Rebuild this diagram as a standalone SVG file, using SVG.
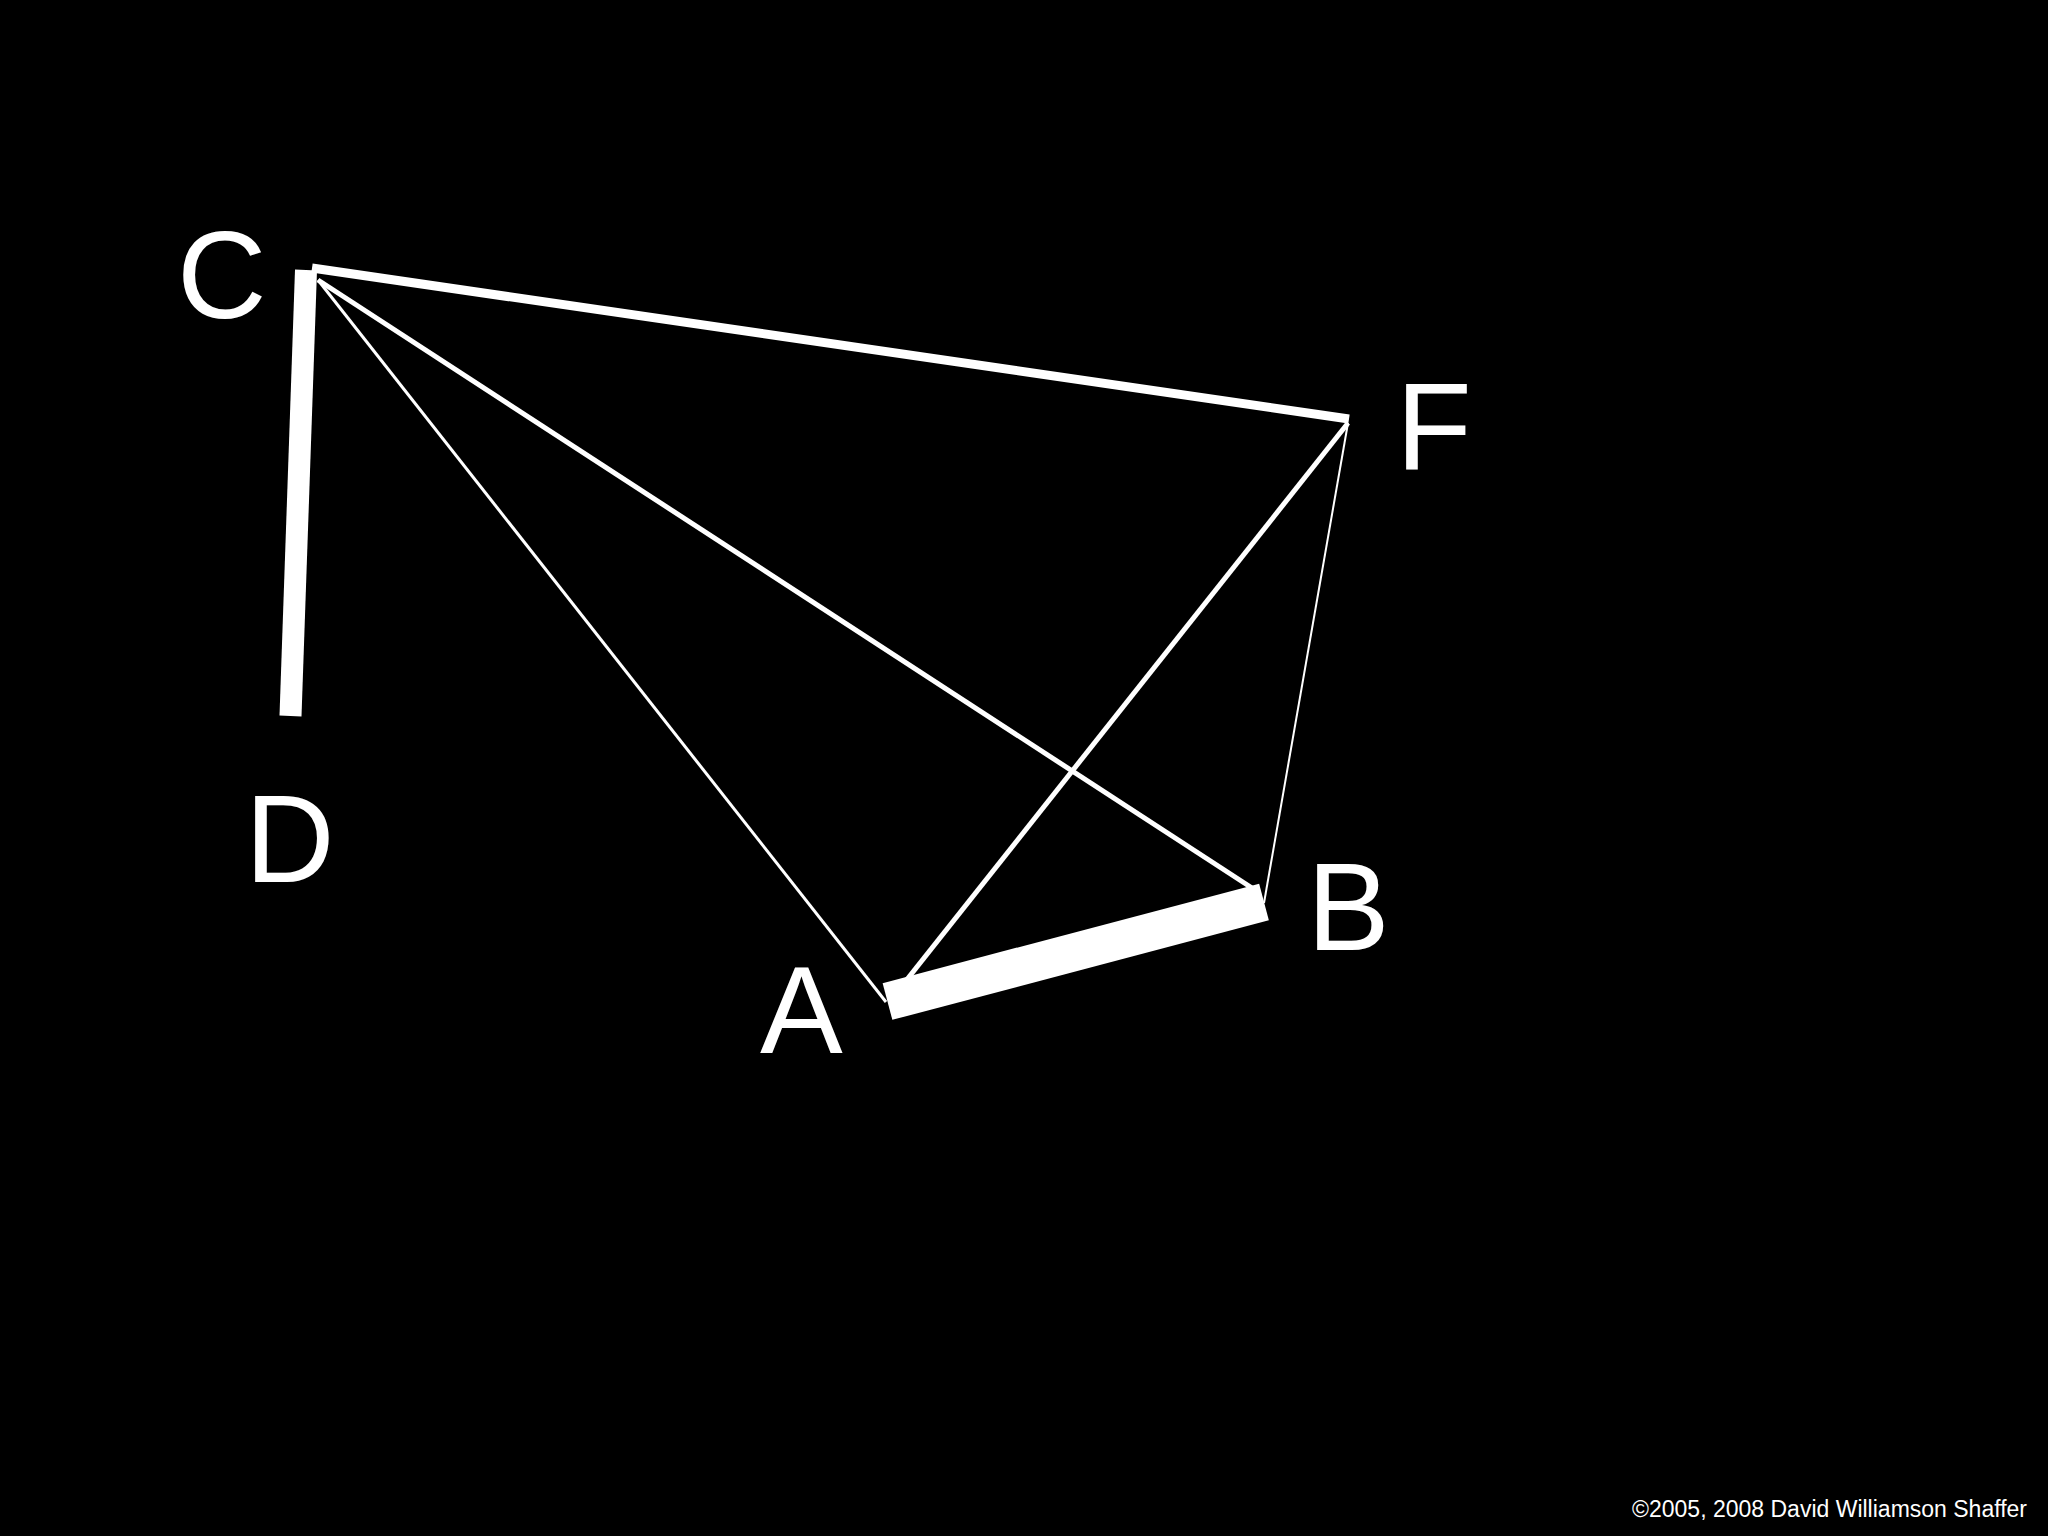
<svg xmlns="http://www.w3.org/2000/svg" width="2048" height="1536" viewBox="0 0 2048 1536">
<style>
.lbl{font-family:"Liberation Sans",Arial,sans-serif;font-size:124px;fill:#fff}
.edge{stroke:#fff;fill:none;stroke-linecap:butt}
.copy{font-family:"Liberation Sans",Arial,sans-serif;font-size:23px;fill:#fff}
</style>
<rect width="2048" height="1536" fill="#000"/>
<g id="connectors">
<line class="edge" x1="306" y1="270" x2="290.5" y2="716" stroke-width="22"/>
<line class="edge" x1="318" y1="280" x2="886" y2="1002" stroke-width="3"/>
<line class="edge" x1="318" y1="280" x2="1252" y2="888" stroke-width="5"/>
<line class="edge" x1="1348" y1="423" x2="905" y2="982" stroke-width="5"/>
<line class="edge" x1="1348" y1="423" x2="1264" y2="903" stroke-width="2"/>
<line class="edge" x1="312" y1="268" x2="1349" y2="419" stroke-width="9"/>
<line class="edge" x1="887.5" y1="1001.5" x2="1264" y2="902" stroke-width="38"/>
</g>
<g id="node-C"><text class="lbl" x="177" y="318">C</text></g>
<g id="node-F"><text class="lbl" x="1396" y="470">F</text></g>
<g id="node-D"><text class="lbl" x="245" y="882">D</text></g>
<g id="node-B"><text class="lbl" x="1307" y="950">B</text></g>
<g id="node-A"><text class="lbl" x="760" y="1053">A</text></g>
<text class="copy" x="2027" y="1517" text-anchor="end">©2005, 2008 David Williamson Shaffer</text>
</svg>
